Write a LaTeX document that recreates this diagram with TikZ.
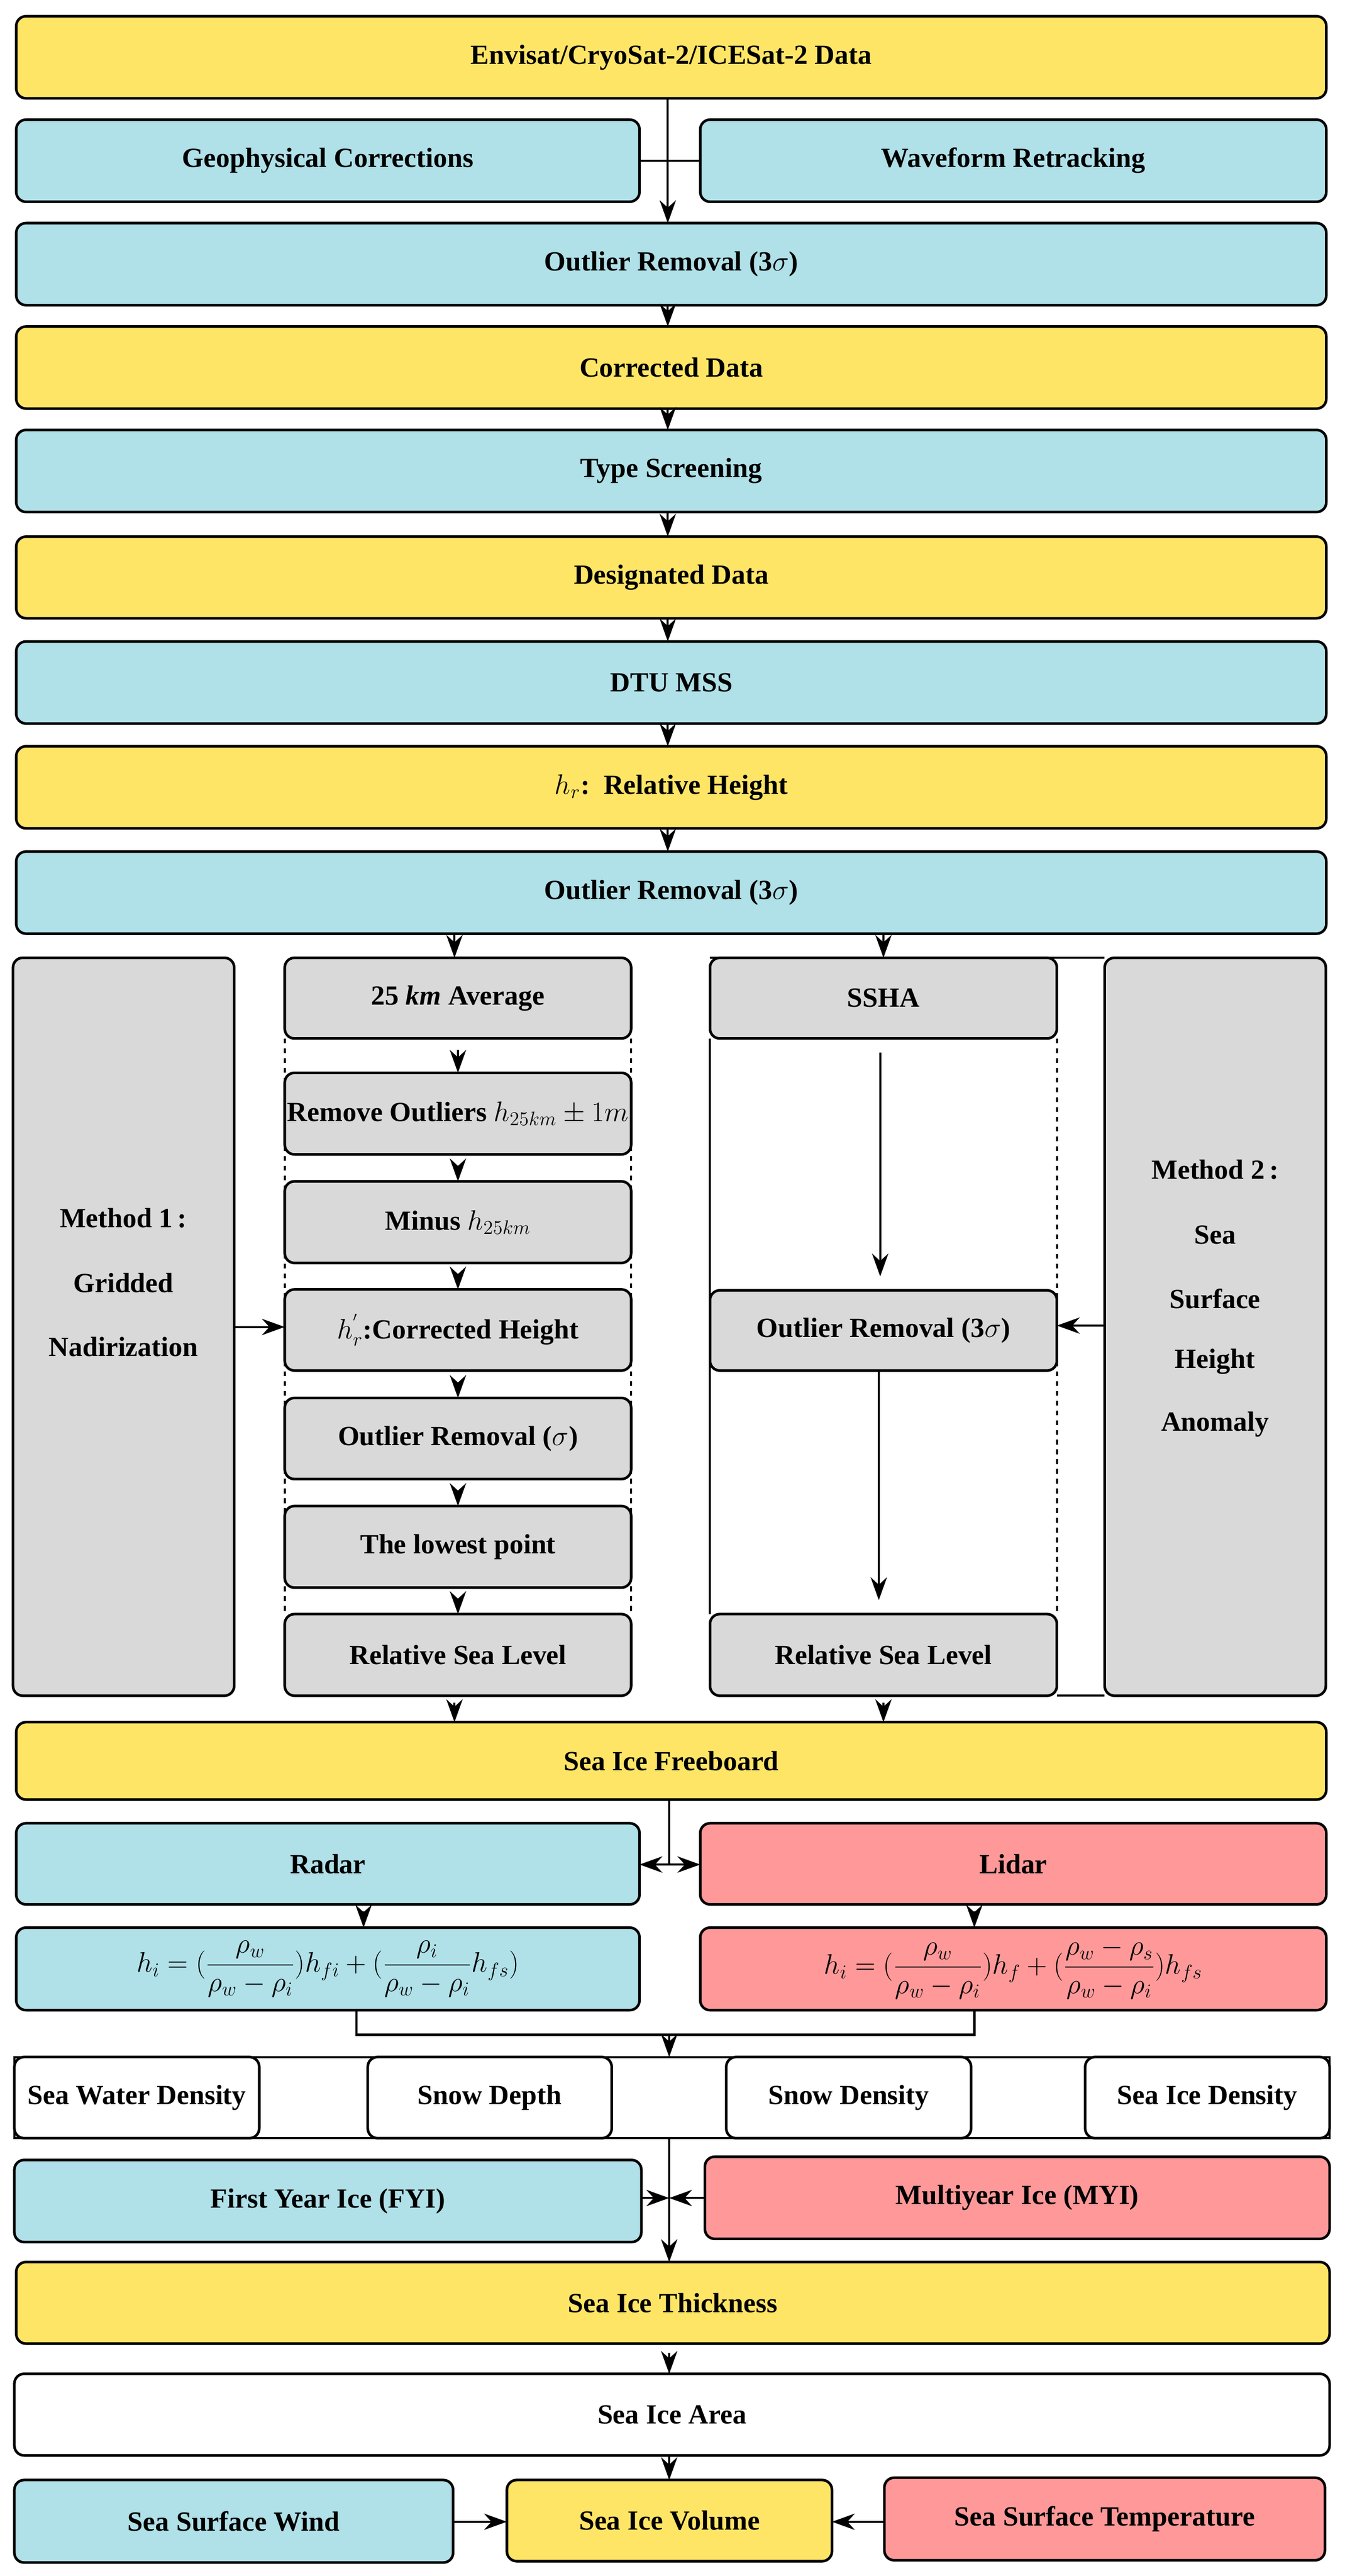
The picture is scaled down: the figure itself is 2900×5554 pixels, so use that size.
\documentclass[tikz,border=0pt]{standalone}
\usepackage{amsmath}
\usepackage{fontspec}
\setmainfont{Liberation Serif}
\usetikzlibrary{arrows.meta}
\definecolor{yel}{HTML}{FFE566}
\definecolor{blu}{HTML}{B0E0E8}
\definecolor{pnk}{HTML}{FF9999}
\definecolor{gry}{HTML}{D9D9D9}
\tikzset{
 box/.style={draw=black,line width=1.6pt,rounded corners=6pt,inner sep=0pt,outer sep=0pt,align=center,font=\fontsize{17}{40}\selectfont\bfseries},
 arr/.style={line width=1.3pt,-{Stealth[length=14pt,width=10pt]}},
 ln/.style={line width=1.3pt},
}
\newcommand{\bx}[7]{\node[box,fill=#6,minimum width={(#4-#2)*0.01cm},minimum height={(#5-#3)*0.01cm}] (#1) at ({(#2+#4)/2},{(#3+#5)/2}) {#7};}
\begin{document}
\begin{tikzpicture}[x=0.01cm,y=-0.01cm]
\useasboundingbox[fill=white] (0,0) rectangle (2900,5554);
\bx{a}{35}{35}{2860}{212}{yel}{Envisat/CryoSat-2/ICESat-2 Data}
\bx{geo}{35}{258}{1379}{435}{blu}{Geophysical Corrections}
\bx{wav}{1510}{258}{2860}{435}{blu}{Waveform Retracking}
\bx{o1}{35}{481}{2860}{658}{blu}{Outlier Removal (3$\sigma$)}
\bx{cd}{35}{704}{2860}{881}{yel}{Corrected Data}
\bx{ts}{35}{927}{2860}{1104}{blu}{Type Screening}
\bx{dd}{35}{1157}{2860}{1333}{yel}{Designated Data}
\bx{dtu}{35}{1383}{2860}{1560}{blu}{DTU MSS}
\bx{hr}{35}{1609}{2860}{1786}{yel}{$h_r$:\ \ Relative Height}
\bx{o2}{35}{1836}{2860}{2013}{blu}{Outlier Removal (3$\sigma$)}
% frames
\draw[ln,dashed] (614,2239) -- (614,3480) (1361,2239) -- (1361,3480);
\draw[ln] (1531,2065) -- (2382,2065) (2279,3656) -- (2382,3656);
\draw[ln] (1531,2239) -- (1531,3480);
\draw[ln,dashed] (2279,2239) -- (2279,3480);
\bx{m1}{28}{2065}{505}{3656}{gry}{}
\node[font=\fontsize{17}{20}\selectfont\bfseries] at (266,2626) {Method 1\,:};
\node[font=\fontsize{17}{20}\selectfont\bfseries] at (266,2766) {Gridded};
\node[font=\fontsize{17}{20}\selectfont\bfseries] at (266,2904) {Nadirization};
\bx{m2}{2382}{2065}{2859}{3656}{gry}{}
\node[font=\fontsize{17}{20}\selectfont\bfseries] at (2620,2522) {Method 2\,:};
\node[font=\fontsize{17}{20}\selectfont\bfseries] at (2620,2662) {Sea};
\node[font=\fontsize{17}{20}\selectfont\bfseries] at (2620,2800) {Surface};
\node[font=\fontsize{17}{20}\selectfont\bfseries] at (2620,2936) {Height};
\node[font=\fontsize{17}{20}\selectfont\bfseries] at (2620,3071) {Anomaly};
\bx{c1}{614}{2065}{1361}{2239}{gry}{25 \textit{km} Average}
\bx{c2}{614}{2313}{1361}{2489}{gry}{Remove Outliers $h_{25km}\pm 1m$}
\bx{c3}{614}{2547}{1361}{2723}{gry}{Minus $h_{25km}$}
\bx{c4}{614}{2780}{1361}{2955}{gry}{$h_r^{'}$:Corrected Height}
\bx{c5}{614}{3014}{1361}{3189}{gry}{Outlier Removal ($\sigma$)}
\bx{c6}{614}{3247}{1361}{3423}{gry}{The lowest point}
\bx{c7}{614}{3480}{1361}{3656}{gry}{Relative Sea Level}
\bx{s1}{1531}{2065}{2279}{2239}{gry}{SSHA}
\bx{s2}{1531}{2782}{2279}{2955}{gry}{Outlier Removal (3$\sigma$)}
\bx{s3}{1531}{3480}{2279}{3656}{gry}{Relative Sea Level}
\bx{fb}{35}{3713}{2860}{3880}{yel}{Sea Ice Freeboard}
\bx{rad}{35}{3931}{1379}{4106}{blu}{Radar}
\bx{lid}{1510}{3931}{2860}{4106}{pnk}{Lidar}
\bx{f1}{35}{4156}{1379}{4334}{blu}{$h_i=(\dfrac{\rho_w}{\rho_w-\rho_i})h_{fi}+(\dfrac{\rho_i}{\rho_w-\rho_i}h_{fs})$}
\bx{f2}{1510}{4156}{2860}{4334}{pnk}{$h_i=(\dfrac{\rho_w}{\rho_w-\rho_i})h_{f}+(\dfrac{\rho_w-\rho_s}{\rho_w-\rho_i})h_{fs}$}
\draw[ln] (31,4435) rectangle (2867,4610);
\bx{d1}{31}{4435}{559}{4610}{white}{Sea Water Density}
\bx{d2}{793}{4435}{1319}{4610}{white}{Snow Depth}
\bx{d3}{1566}{4435}{2094}{4610}{white}{Snow Density}
\bx{d4}{2340}{4435}{2867}{4610}{white}{Sea Ice Density}
\bx{fyi}{31}{4657}{1383}{4834}{blu}{First Year Ice (FYI)}
\bx{myi}{1520}{4650}{2867}{4827}{pnk}{Multiyear Ice (MYI)}
\bx{th}{35}{4877}{2867}{5053}{yel}{Sea Ice Thickness}
\bx{ar}{31}{5118}{2867}{5294}{white}{Sea Ice Area}
\bx{wind}{31}{5347}{977}{5525}{blu}{Sea Surface Wind}
\bx{vol}{1093}{5347}{1794}{5522}{yel}{Sea Ice Volume}
\bx{sst}{1907}{5342}{2857}{5520}{pnk}{Sea Surface Temperature}
% connectors
\draw[ln] (geo.east) -- (wav.west);
\draw[arr] (a.south -| 1440,0) -- (o1.north -| 1440,0);
\draw[arr] (o1.south -| 1440,0) -- (cd.north -| 1440,0);
\draw[arr] (cd.south -| 1440,0) -- (ts.north -| 1440,0);
\draw[arr] (ts.south -| 1440,0) -- (dd.north -| 1440,0);
\draw[arr] (dd.south -| 1440,0) -- (dtu.north -| 1440,0);
\draw[arr] (dtu.south -| 1440,0) -- (hr.north -| 1440,0);
\draw[arr] (hr.south -| 1440,0) -- (o2.north -| 1440,0);
\draw[arr] (o2.south -| 980,0) -- (c1.north -| 980,0);
\draw[arr] (o2.south -| 1905,0) -- (s1.north -| 1905,0);
\foreach \u/\v in {c1/c2,c2/c3,c3/c4,c4/c5,c5/c6,c6/c7}
  \draw[arr] ([yshift=-0.25cm]\u.south) -- (\v.north);
\draw[arr] ([yshift=-0.3cm]s1.south -| 1898,0) -- ([yshift=0.3cm]s2.north -| 1898,0);
\draw[arr] (s2.south -| 1895,0) -- ([yshift=0.3cm]s3.north -| 1895,0);
\draw[arr] (m1.east |- 0,2861) -- (c4.west |- 0,2861);
\draw[arr] (m2.west |- 0,2858) -- (s2.east |- 0,2858);
\draw[arr] ([yshift=-0.15cm]c7.south -| 980,0) -- (fb.north -| 980,0);
\draw[arr] ([yshift=-0.15cm]s3.south -| 1905,0) -- (fb.north -| 1905,0);
\coordinate (j1) at (1443,4020);
\draw[ln] (fb.south -| 1443,0) -- (j1);
\draw[line width=1.3pt,{Stealth[length=14pt,width=10pt]}-{Stealth[length=14pt,width=10pt]}] (rad.east |- j1) -- (lid.west |- j1);
\draw[arr] ([yshift=-0.15cm]rad.south -| 784,0) -- (f1.north -| 784,0);
\draw[arr] ([yshift=-0.15cm]lid.south -| 2101,0) -- (f2.north -| 2101,0);
\coordinate (j2) at (1443,4387);
\draw[ln] (f1.south -| 769,0) -- (769,4387) -- (2101,4387) -- (f2.south -| 2101,0);
\draw[arr] (j2) -- (1443,4435);
\draw[arr] (1443,4610) -- (th.north -| 1443,0);
\draw[arr] (fyi.east |- 0,4739) -- (1443,4739);
\draw[arr] (myi.west |- 0,4739) -- (1443,4739);
\draw[arr] ([yshift=-0.2cm]th.south -| 1443,0) -- (ar.north -| 1443,0);
\draw[arr] (ar.south -| 1443,0) -- (vol.north -| 1443,0);
\draw[arr] (wind.east |- 0,5437) -- (vol.west |- 0,5437);
\draw[arr] (sst.west |- 0,5437) -- (vol.east |- 0,5437);
\end{tikzpicture}
\end{document}
